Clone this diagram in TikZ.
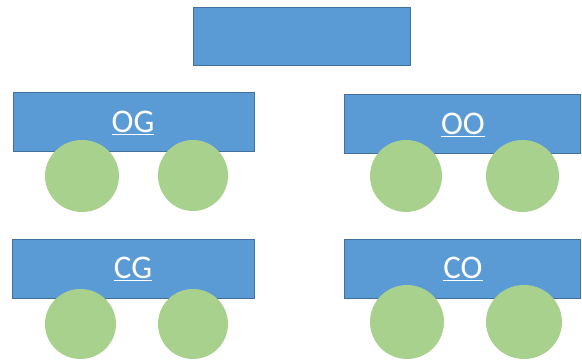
\documentclass[tikz,border=0pt]{standalone}
\usepackage{fontspec}
\setmainfont{Carlito}
\usetikzlibrary{shapes.geometric}
\definecolor{boxblue}{HTML}{5B9BD5}
\definecolor{boxedge}{HTML}{41719C}
\definecolor{seatgreen}{HTML}{A9D18E}
\tikzset{
  table/.style={draw=boxedge, line width=0.8pt, fill=boxblue, rectangle, inner sep=0pt},
  seat/.style={ellipse, fill=seatgreen, draw=none, inner sep=0pt},
  lbl/.style={text=white, font=\fontsize{33}{36}\selectfont, inner sep=0pt}
}
\begin{document}
\begin{tikzpicture}[x=1pt,y=1pt]
\useasboundingbox (0,0) rectangle (582,361);
% top box
\node[table, minimum width=217pt, minimum height=58pt] (top) at (301.5,325) {};
% tables
\node[table, minimum width=241pt, minimum height=59pt] (og) at (133.5,239.5) {};
\node[table, minimum width=236pt, minimum height=59pt] (oo) at (462.5,237.5) {};
\node[table, minimum width=242pt, minimum height=59pt] (cg) at (133,92.5) {};
\node[table, minimum width=236pt, minimum height=59pt] (co) at (462.5,92.5) {};
% labels
\node[lbl] (ogt) at (133,238) {\underline{OG}};
\node[lbl] (oot) at (463,236) {\underline{OO}};
\node[lbl] (cgt) at (133,92) {\underline{CG}};
\node[lbl] (cot) at (463,92) {\underline{CO}};
% seats
\node[seat, minimum width=74pt, minimum height=72pt] (og1) at (82,185) {};
\node[seat, minimum width=70pt, minimum height=71pt] (og2) at (193,185.5) {};
\node[seat, minimum width=72pt, minimum height=72pt] (oo1) at (406,185) {};
\node[seat, minimum width=73pt, minimum height=72pt] (oo2) at (522.5,185) {};
\node[seat, minimum width=71pt, minimum height=70pt] (cg1) at (80.5,37) {};
\node[seat, minimum width=70pt, minimum height=70pt] (cg2) at (193,37) {};
\node[seat, minimum width=74pt, minimum height=74pt] (co1) at (407,39) {};
\node[seat, minimum width=76pt, minimum height=74pt] (co2) at (524,39) {};
\end{tikzpicture}
\end{document}
